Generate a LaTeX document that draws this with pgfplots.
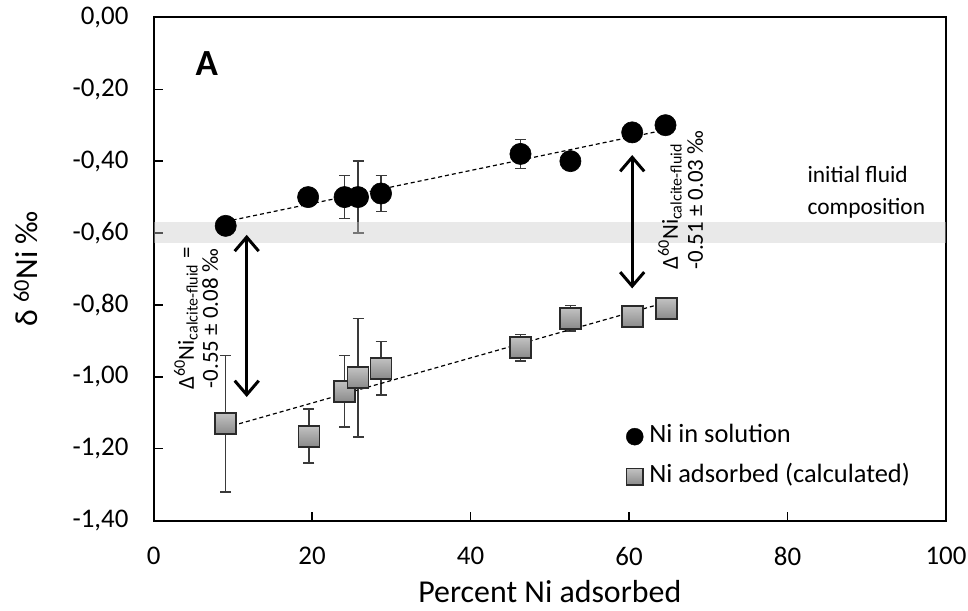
\documentclass[border=0pt]{standalone}
\usepackage{fontspec}
\setmainfont{Carlito}
\usepackage{pgfplots}
\usepackage{pgfplotstable}
\pgfplotsset{compat=1.18}
\usetikzlibrary{arrows.meta}

\definecolor{errgray}{HTML}{3A3A3A}
\definecolor{bandgray}{HTML}{CACACA}
\definecolor{sqlight}{HTML}{C2C2C2}
\definecolor{sqdark}{HTML}{8A8A8A}
\definecolor{sqedge}{HTML}{2A2A2A}

% grey square marker with a vertical gradient, like the Excel fill
\pgfdeclareverticalshading{sqshade}{100bp}{color(0bp)=(sqdark); color(25bp)=(sqdark); color(75bp)=(sqlight); color(100bp)=(sqlight)}
\pgfdeclareplotmark{shadedsquare}{%
  \pgfpathrectangle{\pgfqpoint{-\pgfplotmarksize}{-\pgfplotmarksize}}{\pgfqpoint{2\pgfplotmarksize}{2\pgfplotmarksize}}%
  \pgfshadepath{sqshade}{0}%
  \pgfpathrectangle{\pgfqpoint{-\pgfplotmarksize}{-\pgfplotmarksize}}{\pgfqpoint{2\pgfplotmarksize}{2\pgfplotmarksize}}%
  \pgfusepathqstroke
}
% legend entry: a single mark, no line
\pgfplotsset{
  onemark/.style={legend image code/.code={\draw[##1] plot coordinates {(0bp,0bp)};}},
  capbars/.style={forget plot, draw=none, mark=none,
    error bars/.cd, y dir=both, y explicit,
    error bar style={draw=errgray, line width=1.5bp},
    error mark=|,
    error mark options={draw=errgray, line width=1.5bp, mark size=5.5bp}},
}

% Ni in solution: percent adsorbed, delta60Ni, 2sd
\pgfplotstableread{
x     y       e
9.1   -0.580  0
19.5  -0.500  0
24.1  -0.500  0.06
25.8  -0.500  0.10
28.7  -0.490  0.05
46.3  -0.380  0.04
52.6  -0.400  0.02
60.4  -0.320  0.01
64.6  -0.300  0.01
}\solution

% Ni adsorbed (calculated)
\pgfplotstableread{
x     y       e
9.1   -1.130  0.19
19.6  -1.165  0.075
24.1  -1.040  0.10
25.8  -1.002  0.165
28.7  -0.976  0.074
46.3  -0.919  0.037
52.6  -0.837  0.035
60.4  -0.833  0.01
64.7  -0.810  0.01
}\adsorbed

\begin{document}
\begin{tikzpicture}
\useasboundingbox (-153.6bp,-90.3bp) rectangle (814.4bp,520.7bp);
\begin{axis}[
  at={(0,0)}, anchor=south west,
  scale only axis,
  width=792.4bp, height=503.4bp,
  xmin=0, xmax=100, ymin=-1.4, ymax=0,
  xtick={0,20,40,60,80,100},
  ytick={-1.4,-1.2,-1,-0.8,-0.6,-0.4,-0.2,0},
  scaled ticks=false,
  tick align=inside,
  xtick pos=left, ytick pos=left,
  major tick length=9bp,
  every tick/.style={black, line width=1.3bp},
  axis line style={black, line width=2bp},
  /pgf/number format/assume math mode=true,
  tick label style={font=\fontsize{27}{31}\selectfont},
  yticklabel style={/pgf/number format/.cd, fixed, fixed zerofill, precision=2, use comma, /tikz/.cd, anchor=east, inner sep=0pt, xshift=-25bp},
  xticklabel style={anchor=north, inner sep=0pt, yshift=-26bp},
  xlabel={Percent Ni adsorbed},
  ylabel={δ \textsuperscript{60}Ni ‰},
  label style={font=\fontsize{32}{36}\selectfont},
  xlabel style={at={(axis description cs:0.5,-0.1417)}, anchor=center},
  ylabel style={at={(axis description cs:-0.161,0.5)}, anchor=center},
  legend style={draw=none, fill=none, inner sep=0pt, outer sep=0pt,
    at={(axis cs:59.65,-1.1357)}, anchor=north west,
    font=\fontsize{26.5}{31}\selectfont, row sep=18bp, column sep=6bp,
    nodes={inner sep=0pt, text height=17bp, text depth=5bp}},
  legend cell align=left,
]

% error bars first, so the markers cover them
\addplot[capbars] table[x=x, y=y, y error=e] {\adsorbed};
\addplot[capbars] table[x=x, y=y, y error=e] {\solution};

\addplot[forget plot, only marks, mark=*, mark size=10.6bp,
  mark options={draw=black, fill=black, line width=0.6bp}]
  table[x=x, y=y] {\solution};
\addplot[forget plot, only marks, mark=shadedsquare, mark size=10.5bp,
  mark options={draw=sqedge, line width=1.8bp}]
  table[x=x, y=y] {\adsorbed};

% linear trend lines
\addplot[forget plot, black, line width=1.2bp, dash pattern=on 4bp off 3bp]
  coordinates {(9.1,-0.568) (64.6,-0.313)};
\addplot[forget plot, black, line width=1.2bp, dash pattern=on 4bp off 3bp]
  coordinates {(9.1,-1.141) (64.8,-0.792)};

% initial fluid composition band
\addplot[forget plot, draw=none, fill=bandgray, fill opacity=0.42]
  coordinates {(0,-0.57) (100,-0.57) (100,-0.627) (0,-0.627)} -- cycle;

\addlegendimage{only marks, mark=*, mark size=8.5bp, mark options={draw=black, fill=black}, onemark}
\addlegendentry{Ni in solution}
\addlegendimage{only marks, mark=shadedsquare, mark size=8.3bp, mark options={draw=sqedge, line width=1.6bp}, onemark}
\addlegendentry{Ni adsorbed (calculated)}

% fractionation arrows
\draw[line width=3bp, {Straight Barb[length=14bp,width=24bp]}-{Straight Barb[length=14bp,width=24bp]}]
  (axis cs:11.75,-0.605) -- (axis cs:11.75,-1.056);
\draw[line width=3bp, {Straight Barb[length=14bp,width=24bp]}-{Straight Barb[length=14bp,width=24bp]}]
  (axis cs:60.4,-0.383) -- (axis cs:60.4,-0.754);

\node[rotate=90, align=center, inner sep=0pt, font=\fontsize{23}{24}\selectfont]
  at (axis cs:5.35,-0.838) {Δ\textsuperscript{60}Ni\textsubscript{calcite-fluid} =\\-0.55 ± 0.08 ‰};
\node[rotate=90, align=left, inner sep=0pt, font=\fontsize{23}{25}\selectfont]
  at (axis cs:66.5,-0.508) {Δ\textsuperscript{60}Ni\textsubscript{calcite-fluid}\\-0.51 ± 0.03 ‰};

\node[anchor=west, align=left, inner sep=0pt, font=\fontsize{23.5}{31.5}\selectfont]
  at (axis cs:82.5,-0.487) {initial fluid\\composition};
\node[font=\bfseries\fontsize{37}{40}\selectfont] at (axis cs:6.7,-0.128) {A};
\end{axis}
\end{tikzpicture}
\end{document}
